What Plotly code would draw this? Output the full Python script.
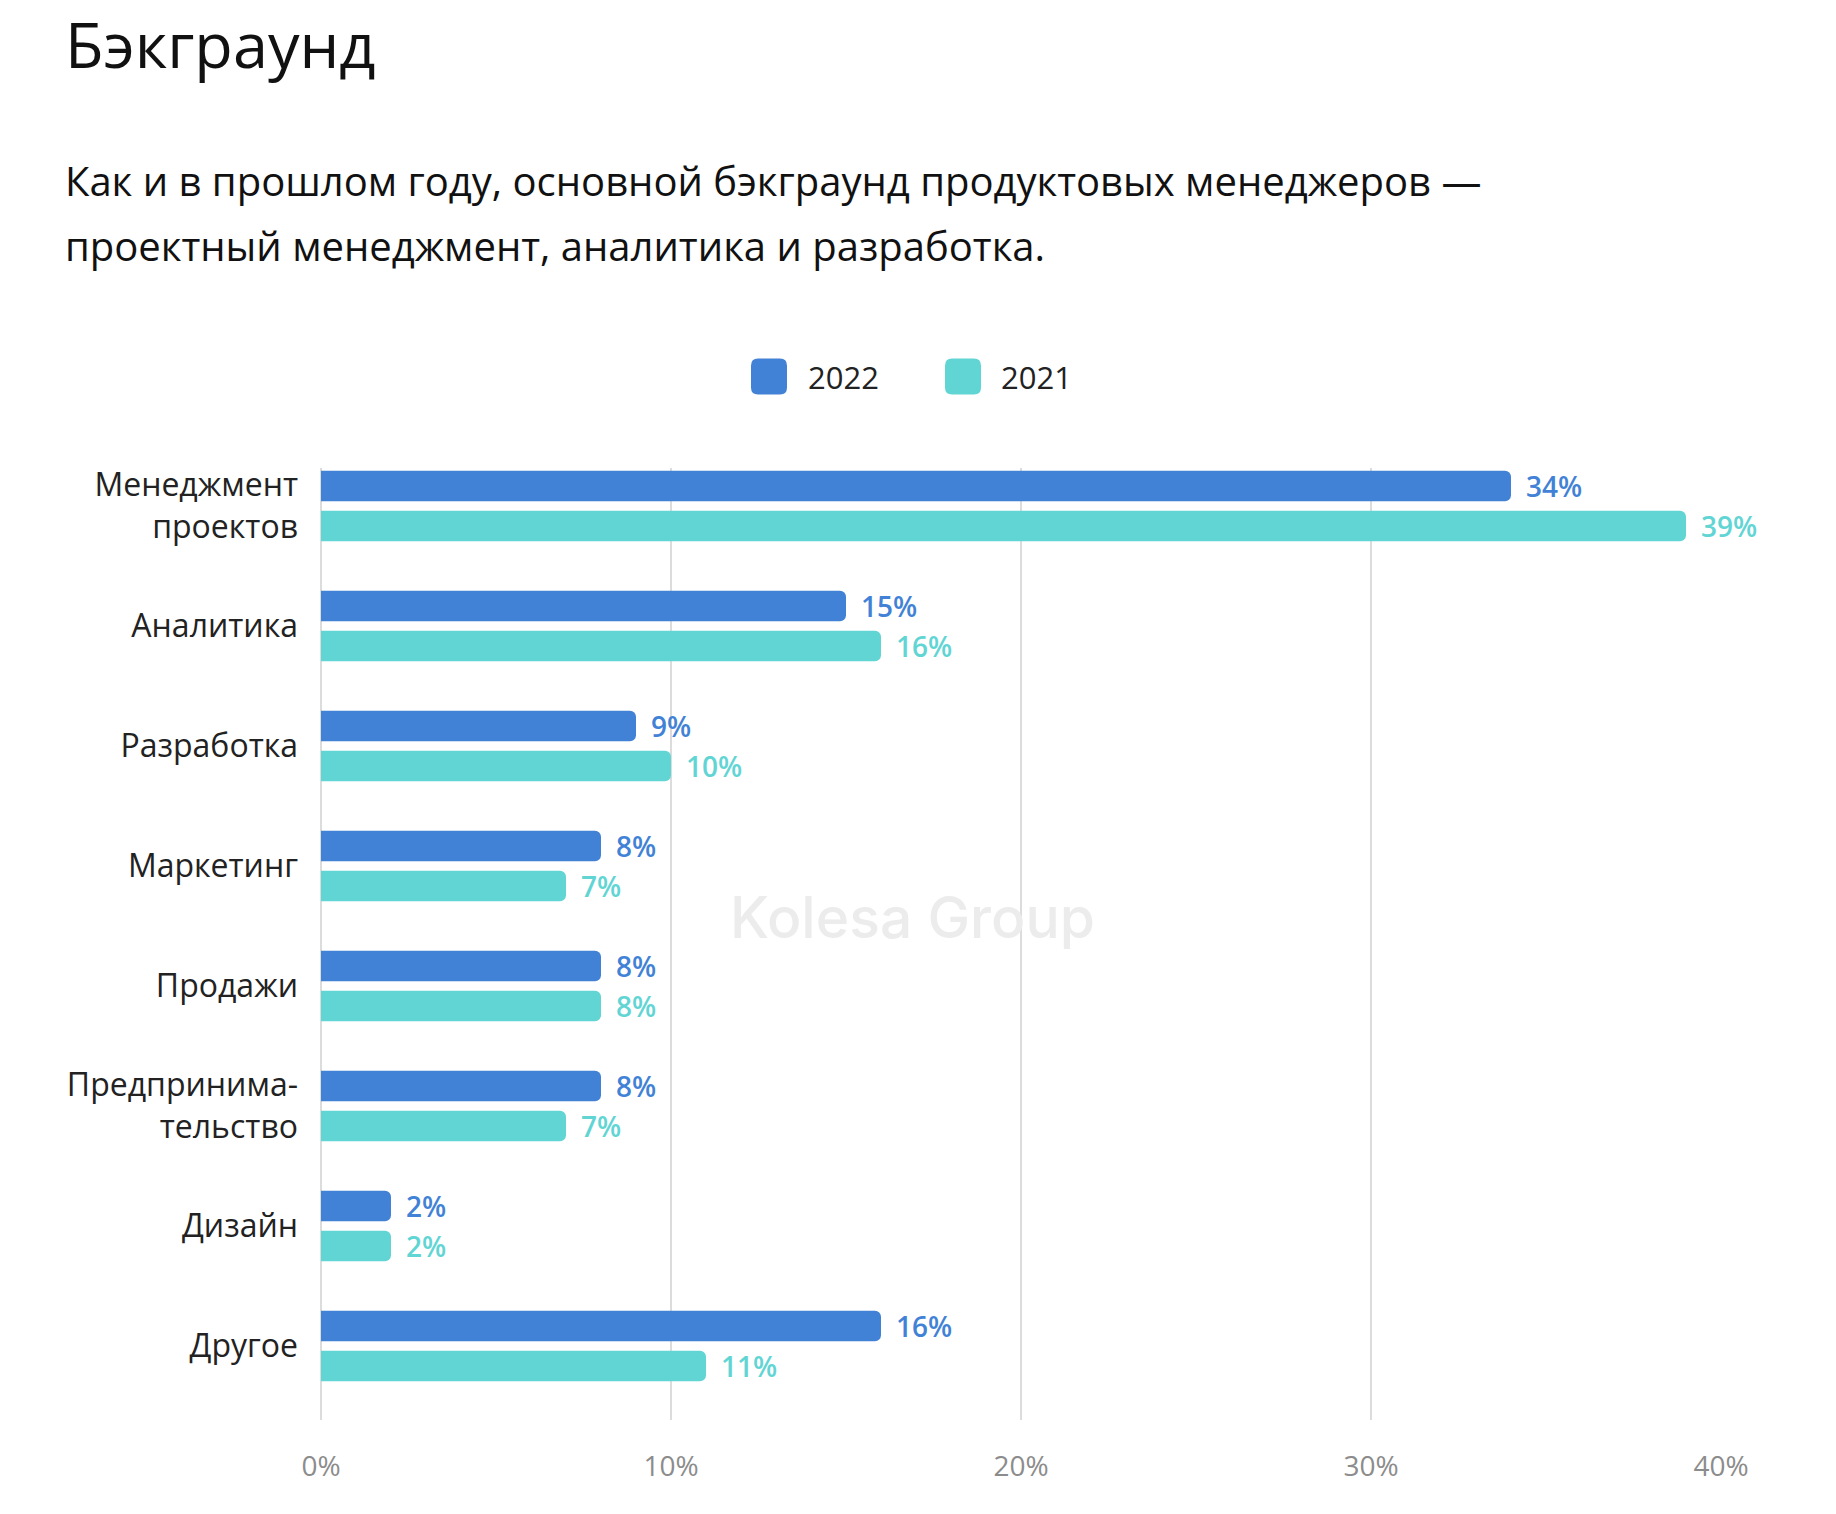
import plotly.graph_objects as go

# ---- data ----
categories = ["Менеджмент<br>проектов", "Аналитика", "Разработка", "Маркетинг",
              "Продажи", "Предпринима-<br>тельство", "Дизайн", "Другое"]
values_2022 = [34, 15, 9, 8, 8, 8, 2, 16]
values_2021 = [39, 16, 10, 7, 8, 7, 2, 11]
series_names = ["2022", "2021"]
x_ticks = [0, 10, 20, 30, 40]
x_tick_labels = ["0%", "10%", "20%", "30%", "40%"]

# ---- style ----
W_PX, H_PX = 1836, 1514
L, R, T, B = 321, 1721, 468, 1420
C22 = "#4282D6"
C21 = "#61D5D4"
FONT = "Open Sans"


def px_x(p):
    return (p - L) / (R - L)


def px_y(p):
    return (B - p) / (B - T)


fig = go.Figure()
for name, vals, col in [(series_names[0], values_2022, C22), (series_names[1], values_2021, C21)]:
    fig.add_trace(go.Bar(
        y=categories, x=vals, name=name, orientation="h",
        marker=dict(color=col, cornerradius=6, line=dict(width=0)),
        text=[f"\u00a0\u2009{v}%" for v in vals], texttemplate="%{text}",
        textposition="outside",
        textfont=dict(family=FONT, size=28, color=col, weight=600),
        constraintext="none", cliponaxis=False, showlegend=False,
        hoverinfo="skip",
    ))

fig.update_layout(
    width=W_PX, height=H_PX,
    margin=dict(l=L, r=W_PX - R, t=T, b=H_PX - B, pad=0),
    paper_bgcolor="white", plot_bgcolor="white",
    barmode="group", bargap=0.333, bargroupgap=0.24,
    font=dict(family=FONT, color="#222222"),
    showlegend=False,
)
fig.update_xaxes(
    range=[0, 40], tickmode="array", tickvals=x_ticks, ticktext=x_tick_labels,
    showgrid=True, gridcolor="#dcdcdc", gridwidth=1.5,
    zeroline=True, zerolinecolor="#dcdcdc", zerolinewidth=1.5,
    showline=False, ticks="", ticklabelstandoff=27,
    tickfont=dict(family=FONT, size=28, color="#8c8c8c"),
)
fig.update_yaxes(
    type="category", categoryorder="array", categoryarray=categories,
    range=[7.617, -0.317], autorange=False,
    showgrid=False, zeroline=False, showline=False, ticks="",
    ticklabelstandoff=22,
    tickfont=dict(family=FONT, size=32, color="#222222"),
)

annotations = [
    dict(text="Бэкграунд", x=px_x(63), y=px_y(43), xref="paper", yref="paper",
         xanchor="left", yanchor="middle", showarrow=False,
         font=dict(family=FONT, size=63, color="#111111")),
    dict(text="Как и в прошлом году, основной бэкграунд продуктовых менеджеров —",
         x=px_x(63), y=px_y(181), xref="paper", yref="paper",
         xanchor="left", yanchor="middle", showarrow=False,
         font=dict(family=FONT, size=40, color="#111111")),
    dict(text="проектный менеджмент, аналитика и разработка.",
         x=px_x(63), y=px_y(246), xref="paper", yref="paper",
         xanchor="left", yanchor="middle", showarrow=False,
         font=dict(family=FONT, size=40, color="#111111")),
    dict(text="Kolesa Group", x=px_x(912), y=px_y(917), xref="paper", yref="paper",
         xanchor="center", yanchor="middle", showarrow=False,
         font=dict(family="Inter", size=57, color="#ececec", weight=500)),
    dict(text=series_names[0], x=px_x(806), y=px_y(377), xref="paper", yref="paper",
         xanchor="left", yanchor="middle", showarrow=False,
         font=dict(family=FONT, size=31, color="#222222")),
    dict(text=series_names[1], x=px_x(999), y=px_y(377), xref="paper", yref="paper",
         xanchor="left", yanchor="middle", showarrow=False,
         font=dict(family=FONT, size=31, color="#222222")),
]

rr = "M -11,-18 L 11,-18 Q 18,-18 18,-11 L 18,11 Q 18,18 11,18 L -11,18 Q -18,18 -18,11 L -18,-11 Q -18,-18 -11,-18 Z"
shapes = []
for cx, col in [(769, C22), (963, C21)]:
    shapes.append(dict(type="path", path=rr, xref="paper", yref="paper",
                       xsizemode="pixel", ysizemode="pixel",
                       xanchor=px_x(cx), yanchor=px_y(376.5),
                       fillcolor=col, line=dict(width=0)))

fig.update_layout(annotations=annotations, shapes=shapes)
fig.write_html("out.html", config={"displayModeBar": False},
               post_script="document.body.style.margin='0';")
